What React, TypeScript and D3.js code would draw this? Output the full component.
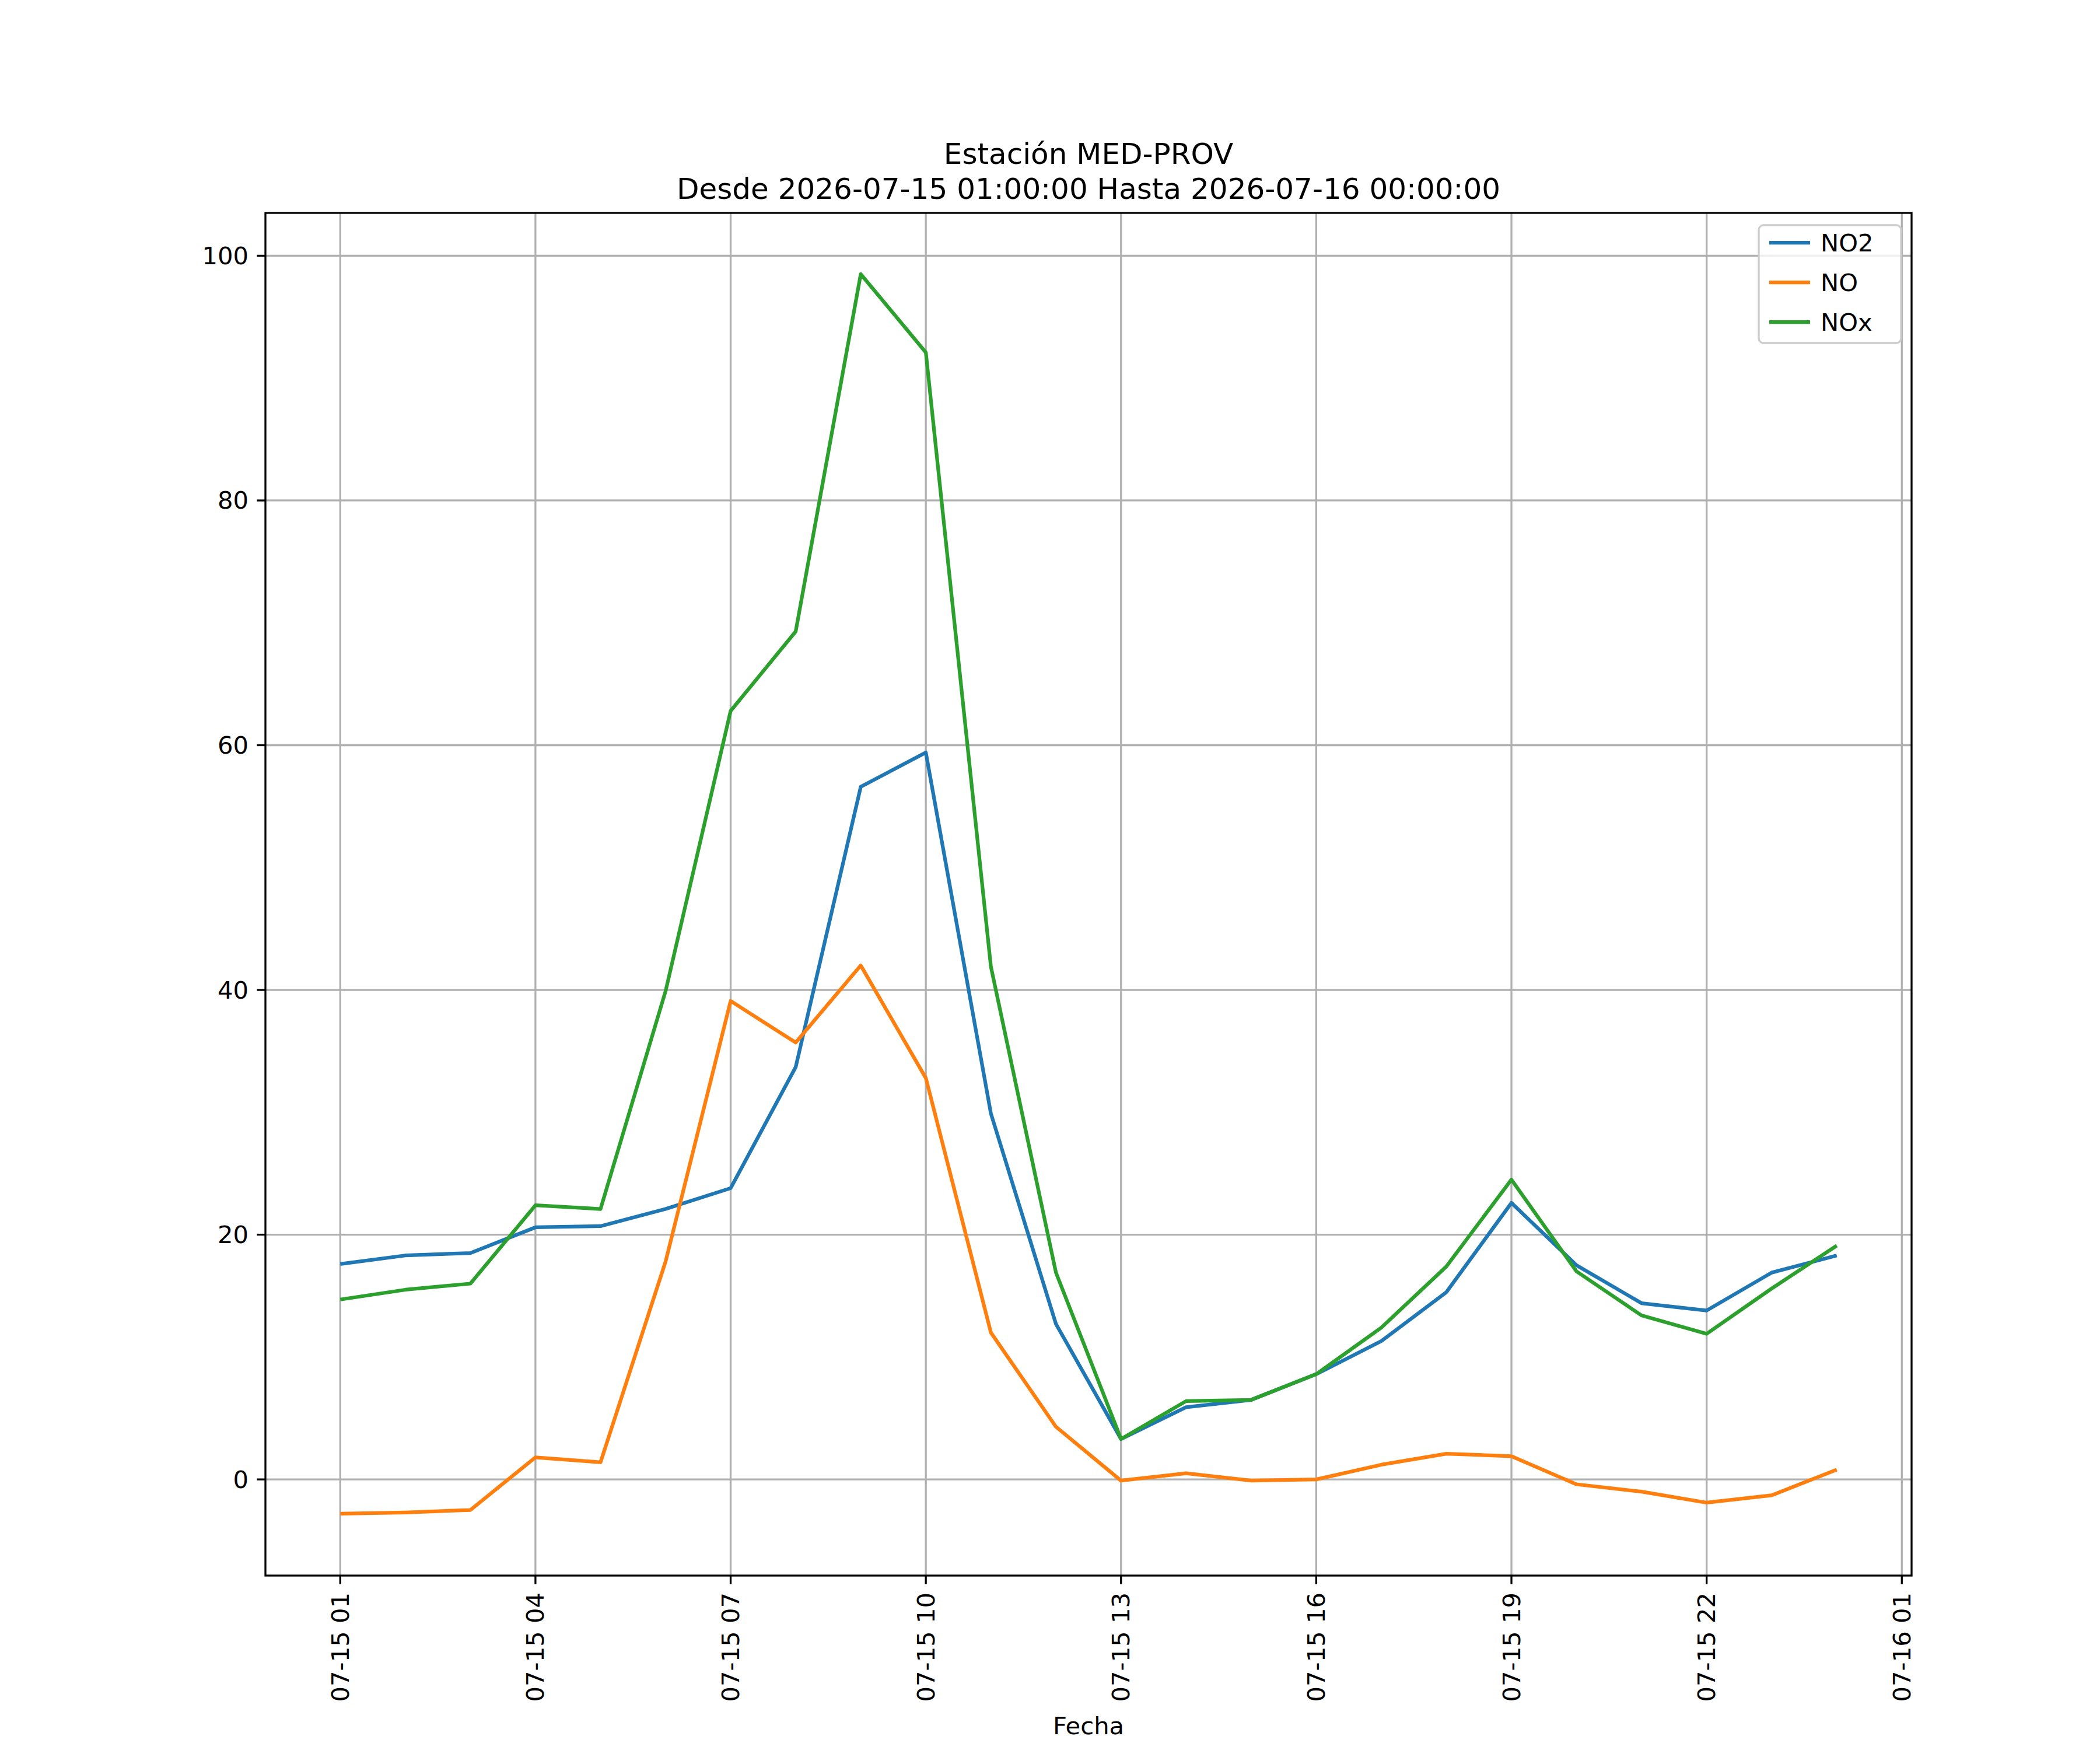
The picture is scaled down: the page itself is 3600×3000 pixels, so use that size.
import * as d3 from 'd3'

const hours = d3.range(0, 24)
const no2 = [17.6, 18.3, 18.5, 20.6, 20.7, 22.1, 23.8, 33.7, 56.6, 59.4, 29.9, 12.7, 3.3, 5.9, 6.5, 8.6, 11.3, 15.3, 22.6, 17.5, 14.4, 13.8, 16.9, 18.3]
const no = [-2.8, -2.7, -2.5, 1.8, 1.4, 17.8, 39.1, 35.7, 42.0, 32.8, 12.0, 4.3, -0.1, 0.5, -0.1, 0.0, 1.2, 2.1, 1.9, -0.4, -1.0, -1.9, -1.3, 0.8]
const nox = [14.7, 15.5, 16.0, 22.4, 22.1, 39.9, 62.8, 69.3, 98.5, 92.1, 41.9, 16.9, 3.3, 6.4, 6.5, 8.6, 12.4, 17.4, 24.5, 17.0, 13.4, 11.9, 15.6, 19.1]
const xTicks = [0, 3, 6, 9, 12, 15, 18, 21, 24]
const xTickLabels = ['07-15 01', '07-15 04', '07-15 07', '07-15 10', '07-15 13', '07-15 16', '07-15 19', '07-15 22', '07-16 01']
const yTicks = [0, 20, 40, 60, 80, 100]
const series = [
  { name: 'NO2', values: no2, color: '#1f77b4' },
  { name: 'NO', values: no, color: '#ff7f0e' },
  { name: 'NOx', values: nox, color: '#2ca02c' },
]

const W = 3600, H = 3000
const left = 455, right = 3277, top = 365, bottom = 2701
const font = 'DejaVu Sans, sans-serif'

export default function App() {
  const x = d3.scaleLinear().domain([-1.15, 24.15]).range([left, right])
  const y = d3.scaleLinear().domain([-7.86, 103.5]).range([bottom, top])
  const line = d3.line<number>().x((_, i) => x(hours[i])).y(d => y(d))
  return (
    <svg width={W} height={H} style={{ position: 'absolute', left: 0, top: 0, background: '#fff' }} fontFamily={font}>
      <rect width={W} height={H} fill="#fff" />
      {xTicks.map(t => (
        <line key={'gx' + t} x1={x(t)} x2={x(t)} y1={top} y2={bottom} stroke="#b0b0b0" strokeWidth={3.3} />
      ))}
      {yTicks.map(t => (
        <line key={'gy' + t} x1={left} x2={right} y1={y(t)} y2={y(t)} stroke="#b0b0b0" strokeWidth={3.3} />
      ))}
      {series.map(s => (
        <path key={s.name} d={line(s.values) || ''} fill="none" stroke={s.color} strokeWidth={6.25} strokeLinejoin="round" />
      ))}
      <rect x={left} y={top} width={right - left} height={bottom - top} fill="none" stroke="#000" strokeWidth={3.3} />
      {xTicks.map((t, i) => (
        <g key={'tx' + t}>
          <line x1={x(t)} x2={x(t)} y1={bottom} y2={bottom + 14.6} stroke="#000" strokeWidth={3.3} />
          <text transform={`translate(${x(t)},${bottom + 29}) rotate(-90)`} textAnchor="end" dominantBaseline="central" fontSize={41.7}>{xTickLabels[i]}</text>
        </g>
      ))}
      {yTicks.map(t => (
        <g key={'ty' + t}>
          <line x1={left - 14.6} x2={left} y1={y(t)} y2={y(t)} stroke="#000" strokeWidth={3.3} />
          <text x={left - 29} y={y(t)} textAnchor="end" dominantBaseline="central" fontSize={41.7}>{t}</text>
        </g>
      ))}
      <text x={(left + right) / 2} y={2958} textAnchor="middle" dominantBaseline="central" fontSize={41.7}>Fecha</text>
      <text x={(left + right) / 2} y={264} textAnchor="middle" dominantBaseline="central" fontSize={50}>Estación MED-PROV</text>
      <text x={(left + right) / 2} y={324} textAnchor="middle" dominantBaseline="central" fontSize={50}>Desde 2026-07-15 01:00:00 Hasta 2026-07-16 00:00:00</text>
      <g>
        <rect x={3015} y={386} width={244} height={202} rx={8} fill="#fff" fillOpacity={0.8} stroke="#ccc" strokeWidth={3.3} />
        {series.map((s, i) => (
          <g key={'lg' + s.name} transform={`translate(0,${416 + i * 68})`}>
            <line x1={3033} x2={3103} y1={0} y2={0} stroke={s.color} strokeWidth={6.25} />
            <text x={3121} y={0} dominantBaseline="central" fontSize={41.7}>{s.name}</text>
          </g>
        ))}
      </g>
    </svg>
  )
}
